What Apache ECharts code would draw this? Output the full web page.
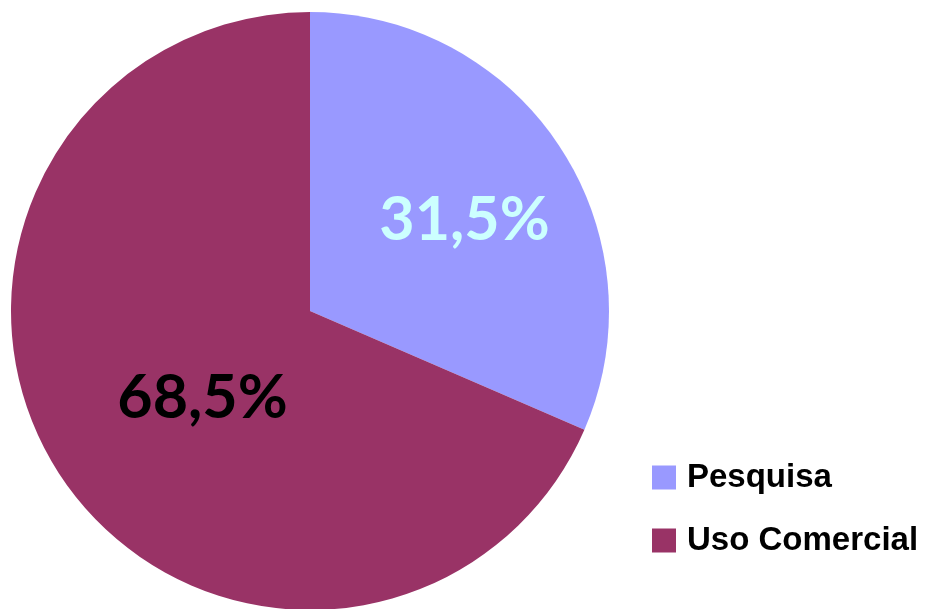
<!DOCTYPE html>
<html>
<head>
<meta charset="utf-8">
<script src="https://cdn.jsdelivr.net/npm/echarts@6/dist/echarts.min.js"></script>
<style>
  html, body { margin: 0; padding: 0; background: #ffffff; }
  #chart { width: 928px; height: 609px; }
</style>
</head>
<body>
<div id="chart"></div>
<script>
// Share of use: research vs commercial
const categories = ['Pesquisa', 'Uso Comercial'];
const shares = [31.5, 68.5];
const sliceColors = ['#9999FF', '#993366'];
const labelColors = ['#CCFFFF', '#000000'];
// small nudges of the in-slice percentage labels
const labelNudge = [[27, -7], [20, 4]];

const fmt = v => v.toFixed(1).replace('.', ',') + '%';

const chart = echarts.init(document.getElementById('chart'), null, { renderer: 'canvas' });
chart.setOption({
  animation: false,
  backgroundColor: '#ffffff',
  legend: {
    orient: 'vertical',
    left: 647,
    top: 456,
    itemWidth: 24,
    itemHeight: 24,
    itemGap: 30,
    icon: 'rect',
    data: categories,
    textStyle: {
      fontFamily: '"Liberation Sans", Arial, sans-serif',
      fontWeight: 'bold',
      fontSize: 33,
      color: '#000000',
      padding: [0, 0, 0, 6]
    }
  },
  series: [{
    type: 'pie',
    center: [310, 311],
    radius: [0, 299],
    startAngle: 90,
    clockwise: true,
    itemStyle: { borderWidth: 0 },
    emphasis: { disabled: true },
    label: {
      show: true,
      position: 'inside',
      fontFamily: 'Lato, "Open Sans", sans-serif',
      fontWeight: 'bold',
      fontSize: 61,
      formatter: p => fmt(p.value)
    },
    labelLine: { show: false },
    labelLayout: p => ({ dx: labelNudge[p.dataIndex][0], dy: labelNudge[p.dataIndex][1] }),
    data: categories.map((name, i) => ({
      name,
      value: shares[i],
      itemStyle: { color: sliceColors[i] },
      label: { color: labelColors[i] }
    }))
  }]
});
</script>
</body>
</html>
